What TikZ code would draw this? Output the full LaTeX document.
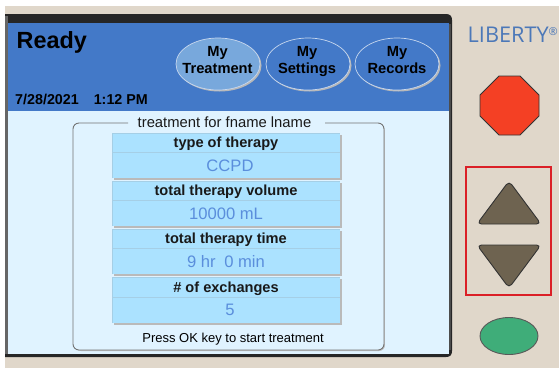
\documentclass[tikz,border=0pt]{standalone}
\usepackage{fontspec}
\setmainfont{Liberation Sans}
\newfontfamily\logofont{Open Sans}
\usetikzlibrary{shapes.geometric,shadows}
\definecolor{panel}{HTML}{E0D7CA}
\definecolor{header}{HTML}{4379C8}
\definecolor{screenbg}{HTML}{E0F3FF}
\definecolor{rowfill}{HTML}{ABE2FF}
\definecolor{rowline}{HTML}{A5CFE6}
\definecolor{valuecol}{HTML}{5A8EDC}
\definecolor{btnfill}{HTML}{78A8DC}
\definecolor{stopred}{HTML}{F44024}
\definecolor{arrowbrown}{HTML}{6E6350}
\definecolor{okgreen}{HTML}{3FAD79}
\definecolor{logoblue}{HTML}{4C78B8}
\definecolor{framered}{HTML}{DB2027}
\tikzset{
 ovallabel/.style={inner sep=0pt,align=center,font=\bfseries\fontsize{14.7}{16.5}\selectfont,text=black},
 ovalrim/.style={draw=white!70!header,line width=.7pt},
 ovalshadow/.style={fill=black!28,draw=none},
 rowhead/.style={font=\bfseries\fontsize{14.6}{16}\selectfont,text=black!90,inner sep=0pt},
 rowvalue/.style={font=\fontsize{16.6}{18}\selectfont,text=valuecol,inner sep=0pt},
 hwbtn/.style={draw=black!80,line width=.9pt,line join=round},
}
\newcommand{\rowcard}[5]{%
 \fill[black!27] (114,#1+2) rectangle (342,#3+2);
 \fill[rowfill] (112,#1) rectangle (340,#3);
 \draw[rowline,line width=.8pt] (112,#2) -- (340,#2);
 \draw[rowline,line width=.6pt] (112,#3) -- (112,#1) -- (340,#1);
 \node[rowhead] (h#5) at (226,{(#1+#2)/2+1.5}) {#4\vphantom{gT}};
}
\begin{document}
\begin{tikzpicture}[x=1pt,y=-1pt]
\useasboundingbox (0,0) rectangle (559,368);
\fill[panel] (5,6) rectangle (559,368);
% bezel
\fill[black!85] (5,14) -- (446,14) .. controls (450,14) and (452,16) .. (452,20) -- (452,351) .. controls (452,355) and (450,357) .. (446,357) -- (5,357) -- cycle;
\fill[black!60] (5,16) rectangle (8,354);
\fill[black!70] (448,24) rectangle (450.5,350);
\fill[screenbg] (8,111) rectangle (449,354);
\fill[header] (8,23) rectangle (449,111);
\node[anchor=base west,inner sep=0pt,font=\bfseries\fontsize{23.4}{26}\selectfont,text=black] (ready) at (16.5,48) {Ready};
\node[anchor=base west,inner sep=0pt,font=\bfseries\fontsize{14.3}{15}\selectfont,text=black] (date) at (15,104.5) {7/28/2021\hspace{15pt}1:12 PM};
% oval buttons
\fill[ovalshadow] (219.5,65.5) ellipse (42 and 26);
\fill[ovalshadow] (309.5,65.5) ellipse (42 and 26);
\fill[ovalshadow] (398.5,65.5) ellipse (42 and 26);
\filldraw[ovalrim,fill=btnfill] (218,64) ellipse (42 and 26);
\filldraw[ovalrim,fill=header] (308,64) ellipse (42 and 26);
\filldraw[ovalrim,fill=header] (397,64) ellipse (42 and 26);
\node[ovallabel] (treat) at (217.5,61.5) {My\\Treatment\vphantom{g}};
\node[ovallabel] (sett) at (307,61.5) {My\\Settings\vphantom{g}};
\node[ovallabel] (recs) at (397,61.5) {My\\Records\vphantom{g}};
% fieldset
\fill[black!25,rounded corners=6pt] (75,125) rectangle (385,351);
\fill[screenbg,rounded corners=6pt] (73,123) rectangle (384,350);
\draw[black!55,line width=.9pt,rounded corners=6pt] (128,123) -- (73,123) -- (73,350) -- (384,350) -- (384,123) -- (325,123);
\fill[screenbg] (385,126) rectangle (386,349);
\fill[screenbg] (129,120) rectangle (324,127);
\node[font=\fontsize{14.8}{16}\selectfont,text=black!90,inner sep=0pt] (legend) at (224.5,122.5) {treatment for fname lname};
% rows
\rowcard{133}{152}{178}{type of therapy}{a}
\node[rowvalue] (va) at (230,165.5) {CCPD};
\rowcard{181}{200}{226}{total therapy volume}{b}
\node[rowvalue] (vb) at (226,213.5) {10000 mL};
\rowcard{229}{248}{274}{total therapy time}{c}
\node[rowvalue] (vc) at (226,261.5) {9 hr\hspace{4pt} 0 min};
\rowcard{277}{297}{323}{\# of exchanges}{d}
\node[rowvalue] (vd) at (230,310) {5};
\node[font=\fontsize{13}{14}\selectfont,text=black,inner sep=0pt] (press) at (233,339) {Press OK key to start treatment};
% hardware keys
\node[anchor=base west,inner sep=0pt,font=\logofont\fontsize{21.7}{24}\selectfont,text=logoblue] (logo) at (467.5,42) {LIBERTY\raisebox{7pt}{\fontsize{11}{12}\selectfont ®}};
\filldraw[hwbtn,fill=stopred] (499,76) -- (520,76) -- (539,95) -- (539,116) -- (520,135) -- (499,135) -- (480,116) -- (480,95) -- cycle;
\draw[framered,line width=2pt] (466,167) rectangle (551,295);
\filldraw[hwbtn,fill=arrowbrown,rounded corners=4.5pt] (509,181) -- (541,224) -- (477,224) -- cycle;
\filldraw[hwbtn,fill=arrowbrown,rounded corners=4.5pt] (477,245) -- (541,245) -- (509,288) -- cycle;
\filldraw[hwbtn,fill=okgreen,draw=black!65] (509,336) ellipse (29 and 18.5);
\end{tikzpicture}
\end{document}
